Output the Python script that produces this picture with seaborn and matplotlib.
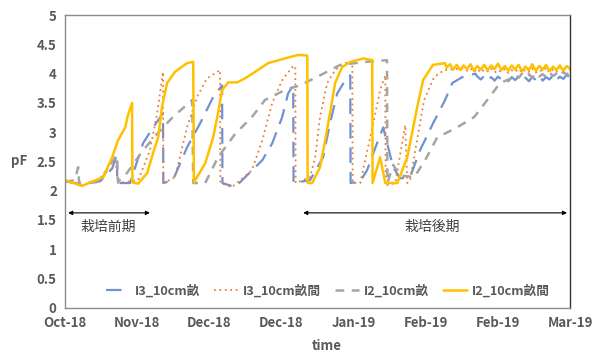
import matplotlib
matplotlib.use('Agg')
import matplotlib.pyplot as plt
import matplotlib.dates as mdates
from matplotlib.ticker import FormatStrFormatter
import pandas as pd
import seaborn as sns

# Data (days after 2018-10-20, pF)
start = pd.Timestamp('2018-10-20')

i3_ridge_days = [0, 4.9, 10.2, 13.7, 15.1, 15.2, 18.9, 22.7, 25.6, 28.5, 28.6, 31.4, 35.5, 39.3, 43.1, 45.7,
                 45.8, 49.5, 57.4, 60.3, 63.2, 64.9, 66.4, 66.5, 71.3, 75.1, 77.1, 79.2, 82.1, 83.0, 83.1,
                 85.9, 87.9, 91.1, 92.6, 95.5, 97.5, 100.4, 103.3, 107.1, 110.6, 112.7, 115.6, 119.4] + list(range(120, 148))
i3_ridge_vals = [2.16, 2.11, 2.16, 2.38, 2.61, 2.13, 2.13, 2.81, 3.08, 3.32, 2.13, 2.18, 2.74, 3.15, 3.60, 3.80,
                 2.13, 2.06, 2.52, 2.81, 3.26, 3.66, 3.80, 2.13, 2.18, 2.57, 3.15, 3.66, 3.94, 3.97, 2.13,
                 2.16, 2.35, 2.86, 3.08, 2.40, 2.21, 2.23, 2.69, 3.15, 3.55, 3.84, 3.94, 4.00,
                 3.95, 3.90, 3.96, 3.89, 3.94, 3.88, 3.95, 3.90, 3.93, 3.87, 3.94, 3.89, 3.95, 3.88,
                 3.93, 3.87, 3.94, 3.89, 3.96, 3.88, 3.94, 3.90, 3.97, 3.89, 3.95, 3.91, 3.98, 3.93]

i3_furrow_days = [0, 4.9, 10.2, 13.1, 14.6, 15.4, 21.3, 24.7, 26.8, 28.5, 28.6, 32.0, 35.5, 38.4, 41.3, 45.1,
                  45.2, 48.6, 54.4, 57.4, 60.3, 63.2, 66.1, 67.0, 67.1, 71.3, 72.8, 74.2, 76.3, 78.6, 81.5,
                  83.6, 83.7, 85.9, 89.7, 91.7, 93.2, 93.3, 96.1, 99.0, 99.6, 100.4, 104.5, 107.4, 110.3,
                  116.2] + list(range(117, 148))
i3_furrow_vals = [2.16, 2.09, 2.21, 2.44, 2.56, 2.13, 2.18, 2.69, 3.32, 4.03, 2.13, 2.23, 3.08, 3.60, 3.92, 4.06,
                  2.13, 2.06, 2.35, 2.86, 3.50, 3.89, 4.11, 4.13, 2.13, 2.23, 2.57, 3.26, 3.84, 4.06, 4.18,
                  4.20, 2.13, 2.13, 3.15, 3.72, 3.97, 2.09, 2.13, 3.12, 2.13, 2.18, 3.55, 3.94, 4.06,
                  4.09,
                  4.05, 4.09, 4.03, 4.08, 4.02, 4.07, 4.04, 4.09, 4.02, 4.06, 4.03, 4.08, 4.01, 4.06, 4.03,
                  4.08, 4.02, 4.07, 4.03, 4.09, 4.02, 4.06, 4.04, 4.10, 4.02, 4.07, 4.03, 4.11, 4.04, 4.12, 4.06]

i2_ridge_days = [0, 2.9, 3.8, 4.1, 10.2, 13.1, 15.1, 15.4, 18.0, 22.7, 26.8, 31.4, 37.0, 37.3, 40.8, 44.5,
                 49.5, 54.4, 58.2, 64.0, 68.4, 74.2, 80.1, 87.3, 93.7, 93.8, 95.5, 97.5, 101.6, 104.8,
                 108.3, 114.1, 119.1, 122.9, 126.6, 130.7] + list(range(131, 148))
i2_ridge_vals = [2.15, 2.18, 2.40, 2.13, 2.15, 2.44, 2.61, 2.15, 2.30, 2.69, 2.97, 3.26, 3.55, 2.13, 2.13, 2.57,
                 2.97, 3.26, 3.55, 3.72, 3.80, 3.97, 4.15, 4.20, 4.23, 2.13, 2.44, 2.26, 2.23, 2.52,
                 2.91, 3.08, 3.26, 3.55, 3.84, 3.94,
                 3.98, 3.93, 4.00, 3.94, 3.99, 3.93, 4.01, 3.95, 3.99, 3.94, 4.02, 3.96, 4.00, 3.95, 4.03, 3.98, 4.05]

i2_furrow_days = [0, 4.9, 11.1, 13.7, 15.4, 17.5, 18.3, 19.5, 19.6, 21.3, 23.9, 25.6, 27.1, 28.2, 29.7, 32.0,
                  35.5, 37.3, 37.5, 40.8, 43.1, 44.5, 45.7, 47.5, 50.1, 52.4, 55.3, 59.1, 64.0, 67.8, 70.5,
                  70.6, 71.9, 74.2, 75.7, 77.1, 78.6, 80.6, 83.0, 86.8, 89.4, 89.5, 91.7, 93.2, 96.7, 99.6,
                  102.5, 104.2, 107.1, 110.6] + list(range(111, 148))
i2_furrow_vals = [2.18, 2.08, 2.23, 2.57, 2.86, 3.08, 3.29, 3.50, 2.14, 2.12, 2.30, 2.64, 2.91, 3.43, 3.84, 4.03,
                  4.18, 4.20, 2.14, 2.47, 2.91, 3.32, 3.72, 3.85, 3.85, 3.92, 4.03, 4.18, 4.26, 4.32, 4.31,
                  2.13, 2.13, 2.40, 2.86, 3.32, 3.84, 4.11, 4.20, 4.26, 4.23, 2.13, 2.57, 2.13, 2.13, 2.57,
                  3.43, 3.89, 4.15, 4.18,
                  4.10, 4.16, 4.07, 4.15, 4.06, 4.14, 4.08, 4.16, 4.05, 4.13, 4.07, 4.15, 4.06, 4.14, 4.08,
                  4.17, 4.06, 4.13, 4.05, 4.14, 4.07, 4.15, 4.04, 4.12, 4.06, 4.16, 4.05, 4.13, 4.07, 4.15,
                  4.04, 4.12, 4.06, 4.14, 4.05, 4.13, 4.08]

series_names = ['I3_10cm畝', 'I3_10cm畝間', 'I2_10cm畝', 'I2_10cm畝間']
period_labels = ['栽培前期', '栽培後期']


def to_dates(days):
    return start + pd.to_timedelta(days, unit='D')


sns.set_style('white')
plt.rcParams['font.family'] = ['Noto Sans CJK JP', 'DejaVu Sans']

fig = plt.figure(figsize=(5.97, 3.52), dpi=100)
ax = fig.add_axes([0.109, 0.126, 0.846, 0.831])

sns.lineplot(x=to_dates(i3_ridge_days), y=i3_ridge_vals, ax=ax, color='#7092D2', lw=1.6,
             linestyle=(0, (7, 4)), label=series_names[0], sort=False)
sns.lineplot(x=to_dates(i3_furrow_days), y=i3_furrow_vals, ax=ax, color='#ED7D31', lw=1.3,
             linestyle=(0, (1, 2)), label=series_names[1], sort=False)
sns.lineplot(x=to_dates(i2_ridge_days), y=i2_ridge_vals, ax=ax, color='#A5A5A5', lw=1.8,
             linestyle=(0, (3.5, 3)), label=series_names[2], sort=False)
sns.lineplot(x=to_dates(i2_furrow_days), y=i2_furrow_vals, ax=ax, color='#FFC000', lw=1.8,
             label=series_names[3], sort=False)

ax.set_ylim(0, 5)
ax.set_yticks([0, 0.5, 1, 1.5, 2, 2.5, 3, 3.5, 4, 4.5, 5])
ax.yaxis.set_major_formatter(FormatStrFormatter('%g'))
ax.set_xlim(start, start + pd.Timedelta(days=147))
ax.set_xticks([start + pd.Timedelta(days=21 * k) for k in range(8)])
ax.xaxis.set_major_formatter(mdates.DateFormatter('%b-%y'))
ax.tick_params(axis='both', length=0, labelsize=9.5, labelcolor='#595959', pad=6)
for lab in ax.get_xticklabels() + ax.get_yticklabels():
    lab.set_fontweight('bold')
for s in ax.spines.values():
    s.set_color('#8c8c8c')
    s.set_linewidth(1.0)
ax.spines['right'].set_color('#333333')
ax.set_xlabel('')
ax.set_ylabel('')

# growth period arrows
arrow = dict(arrowstyle='<|-|>', color='black', lw=0.8, mutation_scale=6, shrinkA=0, shrinkB=0)
ax.annotate('', xy=(start + pd.Timedelta(days=0.9), 1.62),
            xytext=(start + pd.Timedelta(days=24.7), 1.62), arrowprops=arrow)
ax.annotate('', xy=(start + pd.Timedelta(days=69.3), 1.62),
            xytext=(start + pd.Timedelta(days=146.1), 1.62), arrowprops=arrow)
ax.text(start + pd.Timedelta(days=12.5), 1.38, period_labels[0], ha='center', va='center',
        fontsize=10, color='#404040')
ax.text(start + pd.Timedelta(days=106.8), 1.38, period_labels[1], ha='center', va='center',
        fontsize=10, color='#404040')

leg = ax.legend(loc='lower center', bbox_to_anchor=(0.52, -0.005), ncol=4, frameon=False,
                handlelength=1.9, columnspacing=1.1, handletextpad=0.35, fontsize=9.2)
for t in leg.get_texts():
    t.set_color('#595959')
    t.set_fontweight('bold')

fig.text(0.032, 0.543, 'pF', ha='center', va='center', fontsize=9.5, fontweight='bold', color='#595959')
fig.text(0.548, 0.018, 'time', ha='center', va='center', fontsize=9.5, fontweight='bold', color='#595959')

fig.savefig('out.png', dpi=100)
